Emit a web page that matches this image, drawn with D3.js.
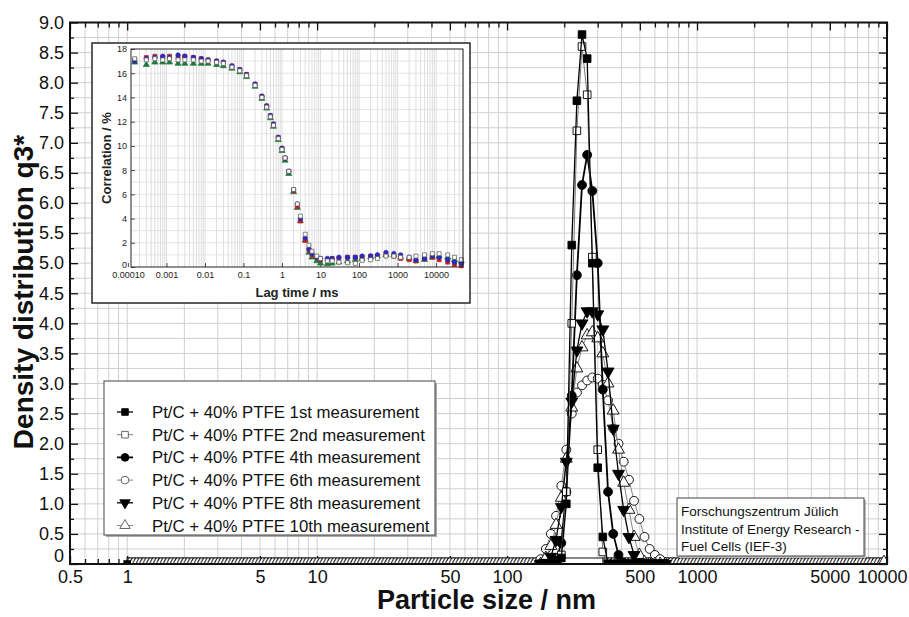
<!DOCTYPE html>
<html>
<head>
<meta charset="utf-8">
<script src="https://cdn.jsdelivr.net/npm/d3@7/dist/d3.min.js"></script>
<style>
  body { margin: 0; background: #fff; }
  svg { display: block; font-family: Arial, "Liberation Sans", Helvetica, sans-serif; }
</style>
</head>
<body>
<svg id="chart" width="909" height="617"></svg>
<script>
// size classes in nm (x values of the distribution)
var sizeClasses = [150, 160, 170, 181, 193, 205, 219, 233, 248, 264, 281, 300, 319, 340, 362, 386, 411, 438, 466, 497, 529, 563, 600, 639, 681];

// density distribution q3* per measurement
var meas1  = [0, 0, 0, 0, 0.1, 1.0, 5.3, 7.7, 8.8, 8.4, 5.0, 1.6, 0.45, 0, 0, 0, 0, 0, 0, 0, 0, 0, 0, 0, 0];
var meas2  = [0, 0, 0, 0, 0.15, 1.2, 4.0, 7.2, 8.6, 7.8, 5.1, 1.9, 0.2, 0, 0, 0, 0, 0, 0, 0, 0, 0, 0, 0, 0];
var meas4  = [0, 0, 0, 0.05, 0.35, 1.2, 2.8, 4.8, 6.3, 6.8, 6.2, 5.0, 2.9, 1.2, 0.5, 0.15, 0.02, 0, 0, 0, 0, 0, 0, 0, 0];
var meas6  = [0.08, 0.25, 0.5, 0.8, 1.3, 1.9, 2.5, 2.85, 2.97, 3.05, 3.1, 3.08, 2.98, 2.72, 2.25, 2.0, 1.7, 1.4, 1.05, 0.75, 0.45, 0.25, 0.15, 0.08, 0];
var meas8  = [0, 0.02, 0.12, 0.4, 0.95, 1.7, 2.7, 3.55, 4.0, 4.2, 4.2, 4.15, 3.9, 3.2, 2.25, 1.5, 0.9, 0.45, 0.15, 0.03, 0, 0, 0, 0, 0];
var meas10 = [0, 0.1, 0.3, 0.65, 1.1, 1.75, 2.6, 3.25, 3.6, 3.8, 3.85, 3.75, 3.5, 3.0, 2.55, 1.9, 1.35, 0.9, 0.45, 0.15, 0.03, 0, 0, 0, 0];

var seriesNames = [
  "Pt/C + 40% PTFE 1st measurement",
  "Pt/C + 40% PTFE 2nd measurement",
  "Pt/C + 40% PTFE 4th measurement",
  "Pt/C + 40% PTFE 6th measurement",
  "Pt/C + 40% PTFE 8th measurement",
  "Pt/C + 40% PTFE 10th measurement"
];

// zero-valued classes run along the whole axis (1 nm .. 10000 nm)
var zeroBandRange = [1, 10000];

var xTickLabels = [0.5, 1, 5, 10, 50, 100, 500, 1000, 5000, 10000];
var yTickLabels = [0, 0.5, 1, 1.5, 2, 2.5, 3, 3.5, 4, 4.5, 5, 5.5, 6, 6.5, 7, 7.5, 8, 8.5, 9];

var noteLines = ["Forschungszentrum Jülich", "Institute of Energy Research -", "Fuel Cells (IEF-3)"];

// inset: correlation function
var lagTimes = [0.00015, 0.0003, 0.0005, 0.0008, 0.0012, 0.002, 0.003, 0.005, 0.008, 0.012, 0.02, 0.03, 0.05, 0.08, 0.12, 0.2, 0.3, 0.4, 0.5, 0.6, 0.8, 1.0, 1.2, 1.5, 2, 2.5, 3, 4, 5, 6, 8, 10, 15, 20, 30, 50, 80, 120, 200, 300, 500, 800, 1200, 2000, 3000, 5000, 8000, 12000, 20000, 30000, 45000];
var corrRed   = [17.1, 17.3, 17.4, 17.3, 17.4, 17.3, 17.4, 17.3, 17.2, 17.1, 17.0, 16.9, 16.6, 16.3, 15.9, 15.1, 14.1, 13.3, 12.5, 11.8, 10.7, 9.8, 9.0, 7.9, 6.3, 5.0, 3.8, 2.2, 1.4, 1.0, 0.8, 0.6, 0.6, 0.7, 0.7, 0.8, 0.8, 0.8, 0.9, 0.9, 1.0, 0.9, 0.7, 0.6, 0.5, 0.7, 0.8, 0.6, 0.4, 0.2, 0.1];
var corrBlue  = [17.0, 17.2, 17.3, 17.4, 17.3, 17.5, 17.4, 17.3, 17.2, 17.1, 17.0, 16.9, 16.6, 16.3, 15.9, 15.1, 14.1, 13.3, 12.5, 11.8, 10.7, 9.8, 9.0, 7.9, 6.4, 5.2, 4.0, 2.4, 1.5, 1.1, 0.8, 0.7, 0.7, 0.7, 0.8, 0.8, 0.8, 0.9, 0.9, 1.0, 1.2, 1.1, 1.0, 0.8, 0.6, 0.7, 0.9, 0.8, 0.6, 0.4, 0.3];
var corrGreen = [16.9, 16.7, 16.9, 16.9, 16.9, 16.8, 16.8, 16.8, 16.8, 16.8, 16.7, 16.6, 16.4, 16.1, 15.7, 14.9, 13.9, 13.1, 12.3, 11.6, 10.5, 9.6, 8.8, 7.7, 6.2, 4.9, 3.8, 2.2, 1.2, 0.8, 0.5, 0.3, 0.25, 0.3, 0.4, 0.5, 0.6, 0.7, 0.8, 0.9, 1.0, 1.0, 0.8, 0.7, 0.5, 0.6, 0.8, 0.9, 0.8, 0.6, 0.5];
var corrGray  = [17.2, 17.1, 17.2, 17.1, 17.2, 17.1, 17.1, 17.1, 17.0, 17.0, 16.9, 16.8, 16.5, 16.2, 15.8, 15.0, 14.0, 13.2, 12.4, 11.7, 10.6, 9.7, 9.0, 7.9, 6.4, 5.2, 4.2, 2.7, 1.8, 1.3, 0.9, 0.7, 0.5, 0.5, 0.4, 0.35, 0.3, 0.55, 0.6, 0.7, 0.9, 0.9, 0.8, 0.8, 0.9, 1.0, 1.1, 1.1, 1.0, 0.8, 0.6];

var insetXTicks = [0.0001, 0.001, 0.01, 0.1, 1, 10, 100, 1000, 10000];
var insetYTicks = [0, 2, 4, 6, 8, 10, 12, 14, 16, 18];

// ---------------------------------------------------------------
var svg = d3.select("#chart");

var plot = { left: 70, right: 887, top: 22.5, bottom: 564 };

var xScale = d3.scaleLog().domain([0.5, 10000]).range([plot.left, plot.right]);
var yScale = d3.scaleLinear().domain([0, 9]).range([plot.bottom, plot.top]);

var defs = svg.append("defs");
defs.append("clipPath").attr("id", "plotClip")
  .append("rect")
  .attr("x", plot.left).attr("y", plot.top)
  .attr("width", plot.right - plot.left).attr("height", plot.bottom - plot.top);

var hatch = defs.append("pattern").attr("id", "hatch")
  .attr("patternUnits", "userSpaceOnUse")
  .attr("width", 3.4).attr("height", 6);
hatch.append("rect").attr("width", 3.4).attr("height", 6).attr("fill", "#fff");
hatch.append("path").attr("d", "M-0.5,6.5 L3.2,-0.5").attr("stroke", "#111").attr("stroke-width", 1.1);

// gridlines
var minorX = xScale.ticks();
var gridY = d3.range(0, 9.01, 0.25);

svg.append("g").attr("class", "grid")
  .selectAll("line").data(minorX).join("line")
  .attr("x1", d => xScale(d)).attr("x2", d => xScale(d))
  .attr("y1", plot.top).attr("y2", plot.bottom)
  .attr("stroke", "#cfcfcf").attr("stroke-width", 1);

svg.append("g").attr("class", "grid")
  .selectAll("line").data(gridY).join("line")
  .attr("x1", plot.left).attr("x2", plot.right)
  .attr("y1", d => yScale(d)).attr("y2", d => yScale(d))
  .attr("stroke", "#cfcfcf").attr("stroke-width", 1);

// axes (ticks inside the frame)
function styleAxis(g) {
  g.select(".domain").remove();
  g.selectAll(".tick line").attr("stroke", "#111").attr("stroke-width", 1.3);
  g.selectAll("text").attr("fill", "#111").attr("font-size", "18px")
    .attr("font-family", "Arial, 'Liberation Sans', sans-serif");
}

var minorXOnly = minorX.filter(d => xTickLabels.indexOf(d) < 0);

svg.append("g").attr("transform", "translate(0," + plot.bottom + ")")
  .call(d3.axisBottom(xScale).tickValues(xTickLabels).tickSize(-8).tickPadding(6).tickFormat(d => String(d)))
  .call(styleAxis)
  .call(g => g.selectAll("text").filter(d => d === 10000).attr("dx", "-5"));
svg.append("g").attr("transform", "translate(0," + plot.bottom + ")")
  .call(d3.axisBottom(xScale).tickValues(minorXOnly).tickSize(-5).tickFormat(""))
  .call(styleAxis);
svg.append("g").attr("transform", "translate(0," + plot.top + ")")
  .call(d3.axisTop(xScale).tickValues(xTickLabels).tickSize(-8).tickFormat(""))
  .call(styleAxis);
svg.append("g").attr("transform", "translate(0," + plot.top + ")")
  .call(d3.axisTop(xScale).tickValues(minorXOnly).tickSize(-5).tickFormat(""))
  .call(styleAxis);

var minorY = yTickLabels.map(d => d + 0.25).filter(d => d < 9);

svg.append("g").attr("transform", "translate(" + plot.left + ",0)")
  .call(d3.axisLeft(yScale).tickValues(yTickLabels).tickSize(-8).tickPadding(6)
    .tickFormat(d => d === 0 ? "0" : d3.format(".1f")(d)))
  .call(styleAxis)
  .call(g => g.selectAll("text").filter(d => d === 0).attr("dy", "-0.12em"));
svg.append("g").attr("transform", "translate(" + plot.left + ",0)")
  .call(d3.axisLeft(yScale).tickValues(minorY).tickSize(-4).tickFormat(""))
  .call(styleAxis);
svg.append("g").attr("transform", "translate(" + plot.right + ",0)")
  .call(d3.axisRight(yScale).tickValues(yTickLabels).tickSize(-8).tickFormat(""))
  .call(styleAxis);
svg.append("g").attr("transform", "translate(" + plot.right + ",0)")
  .call(d3.axisRight(yScale).tickValues(minorY).tickSize(-4).tickFormat(""))
  .call(styleAxis);

// zero band: hatched where at least one measurement is zero
var allSeries = [meas1, meas2, meas4, meas6, meas8, meas10];
var allNonZero = sizeClasses.map((c, i) => allSeries.every(s => s[i] > 0));
var gapStart = sizeClasses[allNonZero.indexOf(true)];
var gapEnd = sizeClasses[allNonZero.lastIndexOf(true)];
var bandH = 6;

svg.append("rect")
  .attr("x", xScale(zeroBandRange[0])).attr("y", plot.bottom - bandH)
  .attr("width", xScale(zeroBandRange[1]) - xScale(zeroBandRange[0])).attr("height", bandH)
  .attr("fill", "#fff").attr("stroke", "#111").attr("stroke-width", 1);

[[zeroBandRange[0], gapStart], [gapEnd, zeroBandRange[1]]].forEach(function (seg) {
  svg.append("rect")
    .attr("x", xScale(seg[0])).attr("y", plot.bottom - bandH)
    .attr("width", xScale(seg[1]) - xScale(seg[0])).attr("height", bandH)
    .attr("fill", "url(#hatch)").attr("stroke", "#111").attr("stroke-width", 0.8);
});

// series styles
var seriesStyle = [
  { data: meas1,  sym: d3.symbolSquare,   rot: 0,   fill: "#000", line: "#000", lw: 1.3 },
  { data: meas2,  sym: d3.symbolSquare,   rot: 0,   fill: "#fff", line: "#777", lw: 1 },
  { data: meas4,  sym: d3.symbolCircle,   rot: 0,   fill: "#000", line: "#000", lw: 1.8 },
  { data: meas6,  sym: d3.symbolCircle,   rot: 0,   fill: "#fff", line: "#888", lw: 1 },
  { data: meas8,  sym: d3.symbolTriangle, rot: 180, fill: "#000", line: "#000", lw: 1.3 },
  { data: meas10, sym: d3.symbolTriangle, rot: 0,   fill: "#fff", line: "#888", lw: 1 }
];
var symSize = { square: 58, circle: 62, triangle: 62 };
function sizeOf(st) {
  return st.sym === d3.symbolSquare ? symSize.square : st.sym === d3.symbolCircle ? symSize.circle : symSize.triangle;
}

var lineGen = d3.line().x(d => xScale(d[0])).y(d => yScale(d[1]));

var drawOrder = [3, 5, 4, 2, 1, 0];
var seriesG = svg.append("g").attr("clip-path", "url(#plotClip)");

drawOrder.forEach(function (k) {
  var st = seriesStyle[k];
  var pts = sizeClasses.map((c, i) => [c, st.data[i]]);
  seriesG.append("path")
    .attr("d", lineGen(pts))
    .attr("fill", "none").attr("stroke", st.line).attr("stroke-width", st.lw);
  seriesG.append("g").selectAll("path").data(pts).join("path")
    .attr("transform", d => "translate(" + xScale(d[0]) + "," + yScale(d[1]) + ") rotate(" + st.rot + ")")
    .attr("d", d3.symbol().type(st.sym).size(sizeOf(st)))
    .attr("fill", st.fill).attr("stroke", "#000").attr("stroke-width", 0.9);
});

// band end markers
seriesG.append("path")
  .attr("transform", "translate(" + xScale(zeroBandRange[0]) + "," + plot.bottom + ")")
  .attr("d", d3.symbol().type(d3.symbolSquare).size(58))
  .attr("fill", "#000");
seriesG.append("path")
  .attr("transform", "translate(" + (xScale(zeroBandRange[1]) - 3) + "," + (plot.bottom - 3) + ")")
  .attr("d", d3.symbol().type(d3.symbolTriangle).size(45))
  .attr("fill", "#fff").attr("stroke", "#000").attr("stroke-width", 0.9);

// frame
svg.append("rect")
  .attr("x", plot.left).attr("y", plot.top)
  .attr("width", plot.right - plot.left).attr("height", plot.bottom - plot.top)
  .attr("fill", "none").attr("stroke", "#111").attr("stroke-width", 2);

// axis titles
svg.append("text")
  .attr("x", (plot.left + plot.right) / 2 + 8).attr("y", 609)
  .attr("text-anchor", "middle").attr("font-weight", "bold").attr("font-size", "27px")
  .attr("fill", "#111").text("Particle size / nm");

svg.append("text")
  .attr("transform", "translate(33," + 292 + ") rotate(-90)")
  .attr("text-anchor", "middle").attr("font-weight", "bold").attr("font-size", "28px")
  .attr("fill", "#111").text("Density distribution q3*");

// legend
var legend = svg.append("g").attr("transform", "translate(104,381)");
legend.append("rect").attr("x", 2).attr("y", 2).attr("width", 331).attr("height", 154).attr("fill", "#aaa");
legend.append("rect").attr("width", 331).attr("height", 154)
  .attr("fill", "#fff").attr("stroke", "#444").attr("stroke-width", 1);

seriesStyle.forEach(function (st, i) {
  var ly = 31 + i * 22.7;
  legend.append("line").attr("x1", 13).attr("x2", 29).attr("y1", ly).attr("y2", ly)
    .attr("stroke", st.line).attr("stroke-width", st.lw);
  legend.append("path")
    .attr("transform", "translate(21," + ly + ") rotate(" + st.rot + ")")
    .attr("d", d3.symbol().type(st.sym).size(sizeOf(st) * 0.75))
    .attr("fill", st.fill).attr("stroke", st.fill === "#fff" ? "#555" : "#000").attr("stroke-width", 0.9);
  legend.append("text").attr("x", 48).attr("y", ly + 6)
    .attr("font-size", "16.8px").attr("fill", "#111")
    .text(seriesNames[i]);
});

// note box
var note = svg.append("g").attr("transform", "translate(677,498)");
note.append("rect").attr("x", 2).attr("y", 2).attr("width", 187).attr("height", 58).attr("fill", "#bbb");
note.append("rect").attr("width", 187).attr("height", 58)
  .attr("fill", "#fff").attr("stroke", "#444").attr("stroke-width", 1);
noteLines.forEach(function (t, i) {
  note.append("text").attr("x", 4).attr("y", 18 + i * 17.5)
    .attr("font-size", "13.5px").attr("fill", "#111").text(t);
});

// ---------------------------------------------------------------
// inset
var inset = { left: 131, right: 463, top: 49, bottom: 267 };
svg.append("rect").attr("x", 92).attr("y", 43).attr("width", 378).attr("height", 260)
  .attr("fill", "#fff").attr("stroke", "#333").attr("stroke-width", 1.6);

var ix = d3.scaleLog().domain([0.00012, 50000]).range([inset.left, inset.right]);
var iy = d3.scaleLinear().domain([0, 18]).range([inset.bottom, inset.top]);

svg.append("g").selectAll("line").data(ix.ticks()).join("line")
  .attr("x1", d => ix(d)).attr("x2", d => ix(d))
  .attr("y1", inset.top).attr("y2", inset.bottom)
  .attr("stroke", "#d6d6d6").attr("stroke-width", 0.8);
svg.append("g").selectAll("line").data(d3.range(1, 18, 1)).join("line")
  .attr("x1", inset.left).attr("x2", inset.right)
  .attr("y1", d => iy(d)).attr("y2", d => iy(d))
  .attr("stroke", "#dedede").attr("stroke-width", 0.8);

function styleInsetAxis(g) {
  g.select(".domain").remove();
  g.selectAll(".tick line").attr("stroke", "#222").attr("stroke-width", 0.8);
  g.selectAll("text").attr("fill", "#222").attr("font-size", "9px")
    .attr("font-family", "Arial, 'Liberation Sans', sans-serif");
}

svg.append("g").attr("transform", "translate(0," + inset.bottom + ")")
  .call(d3.axisBottom(ix).tickValues(insetXTicks).tickSize(-4).tickPadding(5)
    .tickFormat(d => d === 0.0001 ? "0.00010" : String(d)))
  .call(styleInsetAxis);
svg.append("g").attr("transform", "translate(" + inset.left + ",0)")
  .call(d3.axisLeft(iy).tickValues(insetYTicks).tickSize(-4).tickPadding(4))
  .call(styleInsetAxis)
  .call(g => g.selectAll("text").filter(d => d === 0).attr("dy", "0.05em"));

var insetSeries = [
  { data: corrGreen, color: "#1d7a3c", sym: d3.symbolTriangle, open: false },
  { data: corrRed,   color: "#c81e1e", sym: d3.symbolSquare,   open: false },
  { data: corrBlue,  color: "#2a2ab8", sym: d3.symbolCircle,   open: false },
  { data: corrGray,  color: "#555",    sym: d3.symbolSquare,   open: true }
];
insetSeries.forEach(function (s) {
  svg.append("g").selectAll("path").data(lagTimes).join("path")
    .attr("transform", (d, i) => "translate(" + ix(d) + "," + iy(s.data[i]) + ")")
    .attr("d", d3.symbol().type(s.sym).size(16))
    .attr("fill", s.open ? "#fff" : s.color)
    .attr("stroke", s.color).attr("stroke-width", 0.7);
});

svg.append("rect")
  .attr("x", inset.left).attr("y", inset.top)
  .attr("width", inset.right - inset.left).attr("height", inset.bottom - inset.top)
  .attr("fill", "none").attr("stroke", "#222").attr("stroke-width", 1);

svg.append("text")
  .attr("x", (inset.left + inset.right) / 2).attr("y", 297)
  .attr("text-anchor", "middle").attr("font-weight", "bold").attr("font-size", "13px")
  .attr("fill", "#222").text("Lag time / ms");
svg.append("text")
  .attr("transform", "translate(111," + ((inset.top + inset.bottom) / 2) + ") rotate(-90)")
  .attr("text-anchor", "middle").attr("font-weight", "bold").attr("font-size", "13px")
  .attr("fill", "#222").text("Correlation / %");
</script>
</body>
</html>
